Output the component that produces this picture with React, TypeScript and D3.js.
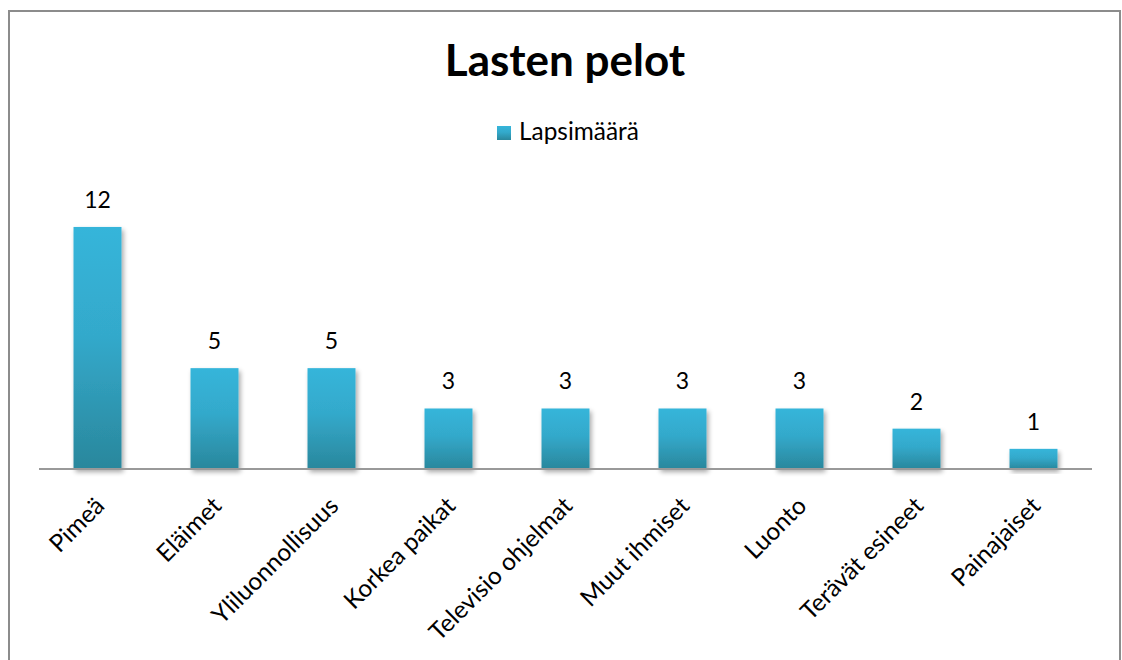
import React from "react";
import * as d3 from "d3";

const categories = ["Pimeä", "Eläimet", "Yliluonnollisuus", "Korkea paikat", "Televisio ohjelmat", "Muut ihmiset", "Luonto", "Terävät esineet", "Painajaiset"];
const values = [12, 5, 5, 3, 3, 3, 3, 2, 1];
const seriesName = "Lapsimäärä";
const title = "Lasten pelot";

const W = 1122, H = 660;
const FONT = "Lato, Carlito, Calibri, 'Open Sans', sans-serif";

export default function App() {
  const x = d3.scaleBand<string>().domain(categories).range([39, 1092]).paddingInner(0.59).paddingOuter(0.295);
  const y = d3.scaleLinear().domain([0, 14]).range([469, 469 - 14 * 20.17]);
  const bw = x.bandwidth();
  return (
    <svg width={W} height={H} style={{ position: "absolute", left: 0, top: 0, background: "#fff" }} fontFamily={FONT}>
      <defs>
        <linearGradient id="bg" x1="0" y1="0" x2="0" y2="1">
          <stop offset="0" stopColor="#36b5da" />
          <stop offset="0.45" stopColor="#33a9cb" />
          <stop offset="1" stopColor="#2a879c" />
        </linearGradient>
        <filter id="sh" x="-20%" y="-10%" width="150%" height="130%">
          <feGaussianBlur in="SourceAlpha" stdDeviation="2.5" />
          <feOffset dx="2" dy="3" result="b" />
          <feComponentTransfer><feFuncA type="linear" slope="0.35" /></feComponentTransfer>
          <feMerge><feMergeNode /><feMergeNode in="SourceGraphic" /></feMerge>
        </filter>
      </defs>
      <rect x={9} y={11} width={1111} height={700} fill="#fff" stroke="#8c8c8c" strokeWidth={2} />
      <text x={565} y={76} textAnchor="middle" fontSize={44} fontWeight="bold" fill="#000">{title}</text>
      <rect x={497} y={126} width={14} height={14} fill="url(#bg)" />
      <text x={519} y={140} fontSize={24.4} fill="#000">{seriesName}</text>
      {categories.map((c, i) => (
        <g key={c}>
          <rect x={x(c)} y={y(values[i])} width={bw} height={y(0) - y(values[i])} fill="url(#bg)" filter="url(#sh)" />
          <text x={x(c)! + bw / 2} y={y(values[i]) - 19} textAnchor="middle" fontSize={23} fill="#000">{values[i]}</text>
          <text transform={`translate(${x(c)! + bw / 2 - 4},${495}) rotate(-45)`} textAnchor="end" fontSize={24.4} dy="0.72em" fill="#000">{c}</text>
        </g>
      ))}
      <line x1={39} x2={1092} y1={469} y2={469} stroke="#999" strokeWidth={2} />
    </svg>
  );
}
